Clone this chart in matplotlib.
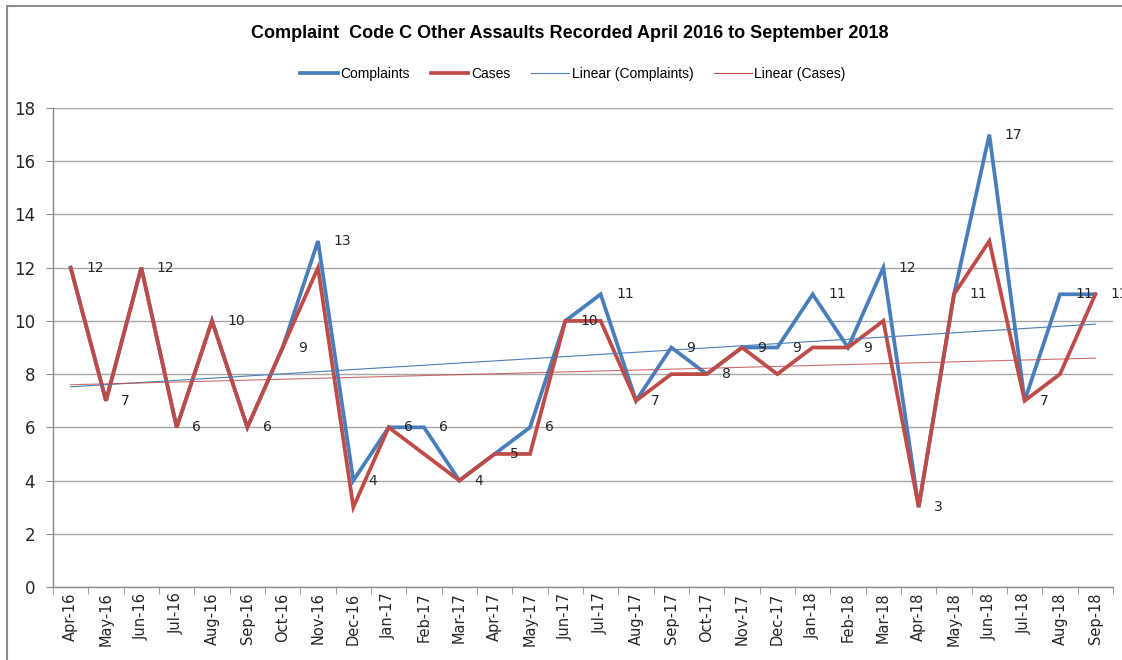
import matplotlib
matplotlib.use("Agg")
import matplotlib.pyplot as plt
from matplotlib.lines import Line2D
from matplotlib.patches import Rectangle
import numpy as np

months = ["Apr-16", "May-16", "Jun-16", "Jul-16", "Aug-16", "Sep-16", "Oct-16", "Nov-16",
          "Dec-16", "Jan-17", "Feb-17", "Mar-17", "Apr-17", "May-17", "Jun-17", "Jul-17",
          "Aug-17", "Sep-17", "Oct-17", "Nov-17", "Dec-17", "Jan-18", "Feb-18", "Mar-18",
          "Apr-18", "May-18", "Jun-18", "Jul-18", "Aug-18", "Sep-18"]
complaints = [12, 7, 12, 6, 10, 6, 9, 13, 4, 6, 6, 4, 5, 6, 10, 11, 7, 9, 8, 9, 9, 11, 9, 12,
              3, 11, 17, 7, 11, 11]
cases = [12, 7, 12, 6, 10, 6, 9, 12, 3, 6, 5, 4, 5, 5, 10, 10, 7, 8, 8, 9, 8, 9, 9, 10,
         3, 11, 13, 7, 8, 11]
y_ticks = [0, 2, 4, 6, 8, 10, 12, 14, 16, 18]
title = "Complaint  Code C Other Assaults Recorded April 2016 to September 2018"

BLUE = "#4A7EBB"
RED = "#BE4B48"

plt.rcParams['font.family'] = ['DejaVu Sans']

W, H = 1122, 660
fig = plt.figure(figsize=(W / 100, H / 100), dpi=100)
fig.patch.set_facecolor("white")

# outer chart border
fig.add_artist(Rectangle((7 / W, -0.1), 1.2, (H - 6) / H + 0.1, transform=fig.transFigure,
                         fill=False, edgecolor="#8C8C8C", linewidth=1.5))

ax = fig.add_axes([53 / W, (H - 587) / H, (1113 - 53) / W, (587 - 108) / H])
x = np.arange(len(months))

ax.plot(x, complaints, color=BLUE, lw=2.7, solid_joinstyle="miter", zorder=3)
ax.plot(x, cases, color=RED, lw=2.7, solid_joinstyle="miter", zorder=4)

pc = np.polyfit(x, complaints, 1)
pk = np.polyfit(x, cases, 1)
ax.plot(x, np.polyval(pc, x), color=BLUE, lw=0.8, zorder=5)
ax.plot(x, np.polyval(pk, x), color=RED, lw=0.8, alpha=0.8, zorder=5)

for xi, v in zip(x, complaints):
    ax.annotate(str(v), (xi, v), xytext=(11, 0), textcoords="offset points",
                ha="left", va="center", fontsize=10, color="#262626",
                annotation_clip=False, zorder=6)

ax.set_xlim(-0.5, len(months) - 0.5)
ax.set_ylim(0, 18)
ax.set_yticks(y_ticks)
ax.set_yticklabels([str(t) for t in y_ticks], fontsize=12, color="#262626")
ax.set_xticks(x)
ax.set_xticklabels(months, rotation=90, fontsize=10.5, color="#262626")
ax.set_xticks(np.arange(-0.5, len(months), 1), minor=True)
ax.tick_params(axis="x", which="major", length=0, pad=4)
ax.tick_params(axis="x", which="minor", length=5, color="#8C8C8C", direction="out")
ax.tick_params(axis="y", length=5, color="#8C8C8C", direction="out", pad=8)
ax.grid(axis="y", color="#A6A6A6", lw=1.0, zorder=0)
ax.set_axisbelow(True)
for s in ["top", "right"]:
    ax.spines[s].set_visible(False)
for s in ["left", "bottom"]:
    ax.spines[s].set_color("#8C8C8C")
    ax.spines[s].set_linewidth(1.0)

fig.text(570 / W, 1 - 34 / H, title, ha="center", va="center", fontsize=13,
         fontweight="bold", family=["Liberation Sans"], color="black")

handles = [Line2D([], [], color=BLUE, lw=2.7),
           Line2D([], [], color=RED, lw=2.7),
           Line2D([], [], color=BLUE, lw=0.8),
           Line2D([], [], color=RED, lw=0.8)]
labels = ["Complaints", "Cases", "Linear (Complaints)", "Linear (Cases)"]
fig.legend(handles, labels, loc="center", bbox_to_anchor=(573 / W, 1 - 74 / H), ncol=4,
           frameon=False, handlelength=2.7, handletextpad=0.2, columnspacing=1.5,
           prop={"family": ["Liberation Sans"], "size": 10})

fig.savefig("out.png", dpi=100, facecolor="white")
